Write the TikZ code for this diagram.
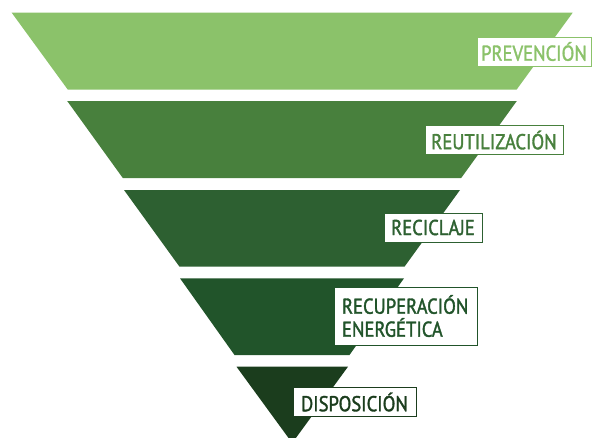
\documentclass[tikz,border=0pt]{standalone}
\usepackage{fontspec}
\setmainfont{PT Sans}[FakeStretch=0.865, FakeBold=1.6]
\definecolor{cA}{HTML}{8BC26A}
\definecolor{cB}{HTML}{48803D}
\definecolor{cC}{HTML}{2D6031}
\definecolor{cD}{HTML}{21542A}
\definecolor{cE}{HTML}{1B3D1D}
\tikzset{
  lbl/.style={draw=#1, fill=white, text=#1, line width=0.9pt, inner sep=0pt,
    minimum height=29pt, font=\fontsize{21.5}{22}\selectfont, anchor=center},
}
\begin{document}
\begin{tikzpicture}[x=1pt,y=-1pt]
\useasboundingbox (0,0) rectangle (592,437);
\begin{scope}
\clip (0,0) rectangle (592,437);
\fill[cA] (11.7,12.7) -- (572.7,12.7) -- (516.7,89.5) -- (67.7,89.5) -- cycle;
\fill[cB] (67.2,101) -- (516.8,101) -- (461.2,178) -- (122.8,178) -- cycle;
\fill[cC] (124,190) -- (460,190) -- (404.5,266.7) -- (179.5,266.7) -- cycle;
\fill[cD] (180,278.3) -- (404,278.3) -- (349.5,355) -- (234.5,355) -- cycle;
\fill[cE] (236.5,366.7) -- (348,366.7) -- (292.2,443) -- cycle;
\end{scope}
\node[lbl=cA, minimum width=114pt] (prev) at (534,51.5) {PREVENCIÓN};
\node[lbl=cB, minimum width=138pt] (reut) at (494,140) {REUTILIZACIÓN};
\node[lbl=cC, minimum width=98pt] (reci) at (433,227.5) {RECICLAJE};
\node[lbl=cD, minimum width=143pt, minimum height=58pt, align=left, text width=127pt, inner xsep=8pt,
  font=\fontsize{21.5}{23}\selectfont] (recu) at (405.5,316) {RECUPERACIÓN\\ENERGÉTICA};
\node[lbl=cE, minimum width=123pt] (disp) at (354.5,402) {DISPOSICIÓN};
\end{tikzpicture}
\end{document}
